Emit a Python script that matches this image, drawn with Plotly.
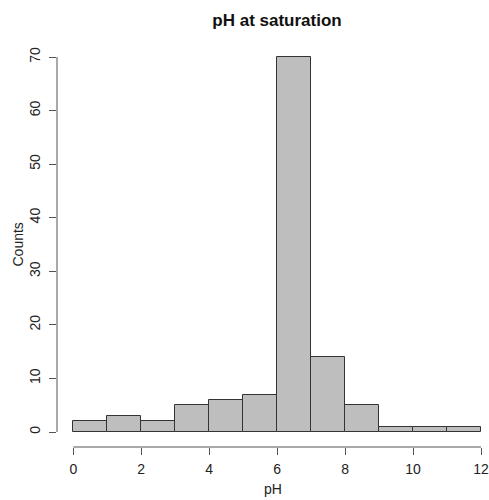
import plotly.graph_objects as go

bin_left = [0, 1, 2, 3, 4, 5, 6, 7, 8, 9, 10, 11]
counts = [2, 3, 2, 5, 6, 7, 70, 14, 5, 1, 1, 1]
x_ticks = [0, 2, 4, 6, 8, 10, 12]
y_ticks = [0, 10, 20, 30, 40, 50, 60, 70]

centers = [b + 0.5 for b in bin_left]

fig = go.Figure()
fig.add_trace(go.Bar(
    x=centers, y=counts, width=1,
    marker=dict(color="#BEBEBE", line=dict(color="#333333", width=1)),
    hoverinfo="skip",
))

axis_col = "#555555"
font = dict(family="Liberation Sans, Arial, sans-serif", size=14, color="#222222")

# R-style axis lines that only span the tick range
fig.add_shape(type="line", xref="x", yref="paper", x0=0, x1=12, y0=0, y1=0,
              line=dict(color=axis_col, width=1))
fig.add_shape(type="line", xref="paper", yref="y", x0=0, x1=0, y0=0, y1=70,
              line=dict(color=axis_col, width=1))

fig.update_layout(
    width=489, height=500,
    margin=dict(l=57, r=0, t=42, b=53),
    plot_bgcolor="white", paper_bgcolor="white",
    showlegend=False,
    bargap=0,
    font=font,
    title=dict(text="<b>pH at saturation</b>", x=(57 + 497) / 2 / 489, xanchor="center",
               y=1 - 20 / 500, yanchor="middle",
               font=dict(family="Liberation Sans, Arial, sans-serif", size=17, color="#111111")),
    xaxis=dict(range=[-0.48, 12 + 8 / 34], tickvals=x_ticks, ticktext=[str(v) for v in x_ticks],
               showgrid=False, zeroline=False, showline=False,
               ticks="outside", ticklen=7, tickcolor=axis_col, tickwidth=1,
               ticklabelstandoff=2, tickfont=font, ticklabeloverflow="allow"),
    yaxis=dict(range=[-2.8, 72.8], tickvals=y_ticks, ticktext=[str(v) for v in y_ticks],
               showgrid=False, zeroline=False, showline=False,
               ticks="outside", ticklen=7, tickcolor=axis_col, tickwidth=1,
               tickangle=-90, ticklabelstandoff=3, tickfont=font),
    annotations=[
        dict(text="pH", xref="paper", yref="paper", x=(277 - 57) / (497 - 57), y=0,
             xanchor="center", yanchor="middle", yshift=-42, showarrow=False, font=font),
        dict(text="Counts", xref="paper", yref="paper", x=0, y=0.5, textangle=-90,
             xanchor="center", yanchor="middle", xshift=-40, showarrow=False, font=font),
    ],
)

fig.write_html("out.html")
